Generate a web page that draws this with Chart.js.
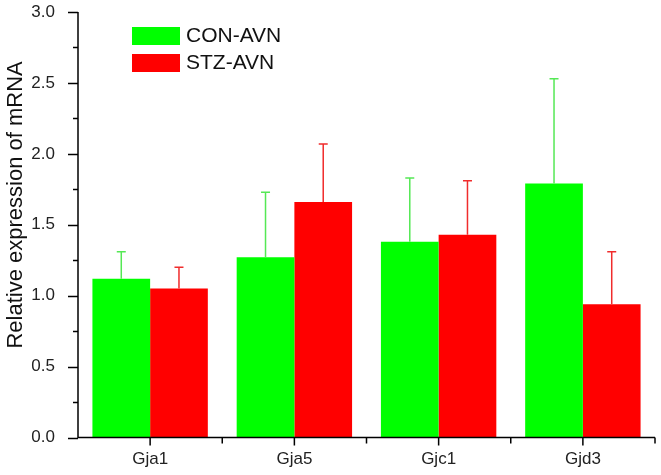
<!DOCTYPE html>
<html lang="en">
<head>
    <meta charset="UTF-8">
    <title>Relative expression of mRNA</title>
    <script src="https://cdn.jsdelivr.net/npm/chart.js@4.4.0/dist/chart.umd.min.js"></script>
    <style>
        html, body { margin: 0; padding: 0; background: #fff; }
        #wrap { width: 661px; height: 475px; }
    </style>
</head>
<body>
    <div id="wrap"><canvas id="chart" width="661" height="475"></canvas></div>

    <script>
        // valores
        const categories = ['Gja1', 'Gja5', 'Gjc1', 'Gjd3'];
        const conMean = [1.12, 1.27, 1.38, 1.79];
        const conSD   = [0.19, 0.46, 0.45, 0.74];
        const stzMean = [1.05, 1.66, 1.43, 0.94];
        const stzSD   = [0.15, 0.41, 0.38, 0.37];
        const seriesNames = ['CON-AVN', 'STZ-AVN'];
        const yTicks = [0, 0.5, 1.0, 1.5, 2.0, 2.5, 3.0];
        const yTitle = 'Relative expression of mRNA';

        const FONT = '"Liberation Sans", Arial, sans-serif';

        // ejes con ticks mayores y menores (estilo Origin)
        const axesPlugin = {
            id: 'axes',
            afterDraw(chart) {
                const c = chart.ctx, a = chart.chartArea;
                const xs = chart.scales.x, ys = chart.scales.y;
                c.save();
                c.strokeStyle = '#000';
                c.lineWidth = 1.5;
                c.beginPath();
                c.moveTo(a.left, a.top);
                c.lineTo(a.left, a.bottom);
                c.lineTo(a.right, a.bottom);
                // ticks eje y
                for (let v = 0; v <= 3.0001; v += 0.25) {
                    const y = Math.round(ys.getPixelForValue(v)) + 0.5;
                    const len = (Math.abs(v * 2 - Math.round(v * 2)) < 1e-6) ? 10 : 5;
                    c.moveTo(a.left - len, y);
                    c.lineTo(a.left, y);
                }
                // ticks eje x: mayores en cada gen, menores entre grupos
                const step = xs.getPixelForValue(1) - xs.getPixelForValue(0);
                categories.forEach((cat, i) => {
                    const xm = xs.getPixelForValue(i);
                    c.moveTo(xm, a.bottom);
                    c.lineTo(xm, a.bottom + 8);
                    c.moveTo(xm + step / 2, a.bottom);
                    c.lineTo(xm + step / 2, a.bottom + 6);
                });
                c.stroke();

                // titulo del eje y (un poco por encima del centro, como en el original)
                c.translate(16, ys.getPixelForValue(1.64));
                c.rotate(-Math.PI / 2);
                c.font = '22px ' + FONT;
                c.fillStyle = '#111';
                c.textAlign = 'center';
                c.textBaseline = 'middle';
                c.fillText(yTitle, 0, 0);
                c.restore();
            }
        };

        // barras de error (solo hacia arriba)
        const errorPlugin = {
            id: 'errors',
            afterDatasetsDraw(chart) {
                const c = chart.ctx, ys = chart.scales.y;
                const sds = [conSD, stzSD];
                const means = [conMean, stzMean];
                const colors = ['#55e855', '#f02c2c'];
                c.save();
                chart.data.datasets.forEach((ds, di) => {
                    const meta = chart.getDatasetMeta(di);
                    c.strokeStyle = colors[di];
                    c.lineWidth = 1.5;
                    meta.data.forEach((bar, i) => {
                        const top = ys.getPixelForValue(means[di][i] + sds[di][i]);
                        c.beginPath();
                        c.moveTo(bar.x, bar.y);
                        c.lineTo(bar.x, top);
                        c.moveTo(bar.x - 4.5, top);
                        c.lineTo(bar.x + 4.5, top);
                        c.stroke();
                    });
                });
                c.restore();
            }
        };

        // leyenda dentro del area del grafico
        const legendPlugin = {
            id: 'insideLegend',
            afterDraw(chart) {
                const c = chart.ctx, a = chart.chartArea;
                c.save();
                c.font = '21px ' + FONT;
                c.textBaseline = 'middle';
                chart.data.datasets.forEach((ds, i) => {
                    const x = a.left + 54, y = a.top + 15 + i * 27;
                    c.fillStyle = ds.backgroundColor;
                    c.fillRect(x, y, 48, 18);
                    c.fillStyle = '#111';
                    c.fillText(ds.label, x + 54, y + 9);
                });
                c.restore();
            }
        };

        const ctx = document.getElementById('chart').getContext('2d');
        const chart = new Chart(ctx, {
            type: 'bar',
            data: {
                labels: categories,
                datasets: [{
                    label: seriesNames[0],
                    data: conMean,
                    backgroundColor: '#00ff00',
                    borderWidth: 0
                },
                {
                    label: seriesNames[1],
                    data: stzMean,
                    backgroundColor: '#ff0000',
                    borderWidth: 0
                }]
            },
            options: {
                responsive: false,
                animation: false,
                categoryPercentage: 0.8,
                barPercentage: 1.0,
                layout: { padding: { top: 0, right: 6, left: 0, bottom: 0 } },
                plugins: {
                    legend: { display: false },
                    tooltip: { enabled: false }
                },
                scales: {
                    x: {
                        grid: { display: false },
                        border: { display: false },
                        afterFit: s => { s.height = 37.5; },
                        ticks: {
                            autoSkip: false,
                            maxRotation: 0,
                            padding: 4,
                            color: '#222',
                            font: { family: FONT, size: 17 }
                        }
                    },
                    y: {
                        min: 0,
                        max: 3.0,
                        grid: { display: false },
                        border: { display: false },
                        afterBuildTicks: s => { s.ticks = yTicks.map(v => ({ value: v })); },
                        afterFit: s => { s.width = 78; s.paddingTop = 12; s.paddingBottom = 0; },
                        ticks: {
                            padding: 15,
                            color: '#222',
                            font: { family: FONT, size: 17 },
                            callback: v => v.toFixed(1)
                        }
                    }
                }
            },
            plugins: [errorPlugin, axesPlugin, legendPlugin]
        });
    </script>
</body>
</html>
